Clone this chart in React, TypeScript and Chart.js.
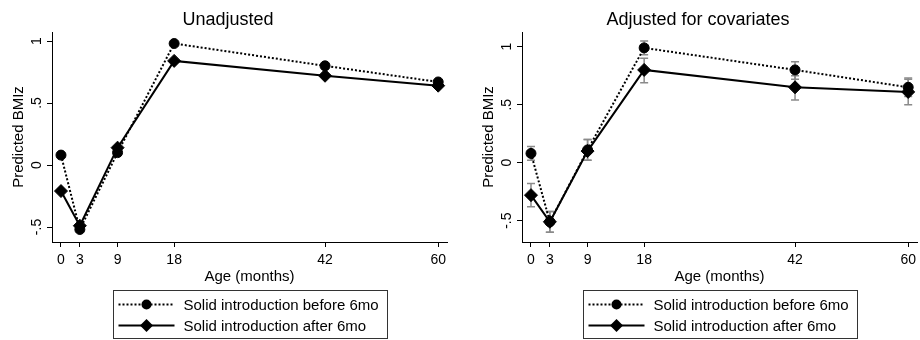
import React, { useEffect, useRef } from "react";
import { Chart, registerables } from "chart.js";

Chart.register(...registerables);

// ---------- data ----------
const ages = [0, 3, 9, 18, 42, 60];
const xTickValues = [0, 3, 9, 18, 42, 60];
const yTickValues = [-0.5, 0, 0.5, 1];
const yTickLabels = ["-.5", "0", ".5", "1"];
const seriesLabels = ["Solid introduction before 6mo", "Solid introduction after 6mo"];
const panelTitles = ["Unadjusted", "Adjusted for covariates"];
const xAxisTitle = "Age (months)";
const yAxisTitle = "Predicted BMIz";

const unadjBefore = [0.08, -0.52, 0.1, 0.98, 0.8, 0.67];
const unadjAfter = [-0.21, -0.49, 0.14, 0.84, 0.72, 0.64];

const adjBefore = [0.08, -0.51, 0.11, 0.99, 0.8, 0.65];
const adjBeforeLow = [0.02, -0.6, 0.02, 0.93, 0.72, 0.57];
const adjBeforeHigh = [0.14, -0.42, 0.2, 1.05, 0.87, 0.73];
const adjAfter = [-0.28, -0.51, 0.1, 0.8, 0.65, 0.61];
const adjAfterLow = [-0.38, -0.6, 0.02, 0.69, 0.54, 0.5];
const adjAfterHigh = [-0.18, -0.42, 0.2, 0.9, 0.75, 0.72];

const FONT = '"Liberation Sans", Arial, Helvetica, sans-serif';

type ErrSet = { low: number[]; high: number[] };

function makeErrorPlugin(sets: ErrSet[]) {
  return {
    id: "errorBars",
    beforeDatasetsDraw(chart: any) {
      const ctx = chart.ctx;
      const xs = chart.scales.x;
      const ys = chart.scales.y;
      ctx.save();
      ctx.strokeStyle = "#8a8a8a";
      ctx.lineWidth = 1.5;
      ctx.setLineDash([]);
      sets.forEach((s) => {
        ages.forEach((a, i) => {
          const px = xs.getPixelForValue(a);
          const lo = ys.getPixelForValue(s.low[i]);
          const hi = ys.getPixelForValue(s.high[i]);
          ctx.beginPath();
          ctx.moveTo(px, lo);
          ctx.lineTo(px, hi);
          ctx.moveTo(px - 4, lo);
          ctx.lineTo(px + 4, lo);
          ctx.moveTo(px - 4, hi);
          ctx.lineTo(px + 4, hi);
          ctx.stroke();
        });
      });
      ctx.restore();
    },
  };
}

const legendPlugin = {
  id: "boxLegend",
  afterDraw(chart: any) {
    const ctx = chart.ctx;
    const ca = chart.chartArea;
    const dsets = chart.data.datasets;
    ctx.save();
    ctx.font = `15px ${FONT}`;
    const textW = Math.max(...dsets.map((d: any) => ctx.measureText(d.label).width));
    const boxW = Math.round(70 + textW + 9);
    const boxH = 48;
    const cx = (ca.left + ca.right) / 2;
    const left = Math.round(cx - boxW / 2) + 0.5;
    const top = chart.height - 50 + 0.5;
    ctx.strokeStyle = "#333";
    ctx.lineWidth = 1;
    ctx.setLineDash([]);
    ctx.strokeRect(left, top, boxW, boxH);
    dsets.forEach((d: any, i: number) => {
      const y = top + 14 + i * 21;
      ctx.strokeStyle = "#000";
      ctx.lineWidth = d.borderWidth;
      ctx.setLineDash(d.borderDash || []);
      ctx.beginPath();
      ctx.moveTo(left + 5, y);
      ctx.lineTo(left + 61, y);
      ctx.stroke();
      ctx.setLineDash([]);
      ctx.fillStyle = "#000";
      const mx = left + 33;
      ctx.beginPath();
      if (d.pointStyle === "rectRot") {
        const r = d.pointRadius;
        ctx.moveTo(mx - r, y);
        ctx.lineTo(mx, y - r);
        ctx.lineTo(mx + r, y);
        ctx.lineTo(mx, y + r);
        ctx.closePath();
      } else {
        ctx.arc(mx, y, d.pointRadius, 0, Math.PI * 2);
      }
      ctx.fill();
      ctx.fillStyle = "#000";
      ctx.textAlign = "left";
      ctx.textBaseline = "middle";
      ctx.fillText(d.label, left + 70, y + 1);
    });
    ctx.restore();
  },
};

function makeDatasets(before: number[], after: number[]) {
  return [
    {
      label: seriesLabels[0],
      data: ages.map((a, i) => ({ x: a, y: before[i] })),
      borderColor: "#000",
      borderWidth: 2,
      borderDash: [2, 2],
      pointStyle: "circle",
      pointRadius: 5,
      pointBackgroundColor: "#000",
      pointBorderColor: "#000",
      pointBorderWidth: 1,
      tension: 0,
      fill: false,
    },
    {
      label: seriesLabels[1],
      data: ages.map((a, i) => ({ x: a, y: after[i] })),
      borderColor: "#000",
      borderWidth: 2,
      borderDash: [],
      pointStyle: "rectRot",
      pointRadius: 6.5,
      pointBackgroundColor: "#000",
      pointBorderColor: "#000",
      pointBorderWidth: 1,
      tension: 0,
      fill: false,
    },
  ];
}

type PanelProps = {
  left: number;
  title: string;
  before: number[];
  after: number[];
  yMin: number;
  yMax: number;
  errors: ErrSet[];
};

function Panel({ left, title, before, after, yMin, yMax, errors }: PanelProps) {
  const ref = useRef<HTMLCanvasElement>(null);
  useEffect(() => {
    const chart = new Chart(ref.current as HTMLCanvasElement, {
      type: "line",
      data: { datasets: makeDatasets(before, after) as any },
      options: {
        responsive: false,
        animation: false,
        devicePixelRatio: 1,
        layout: { padding: { left: 9, right: 9, top: 0, bottom: 48 } },
        plugins: {
          legend: { display: false },
          tooltip: { enabled: false },
          title: {
            display: true,
            text: title,
            color: "#000",
            font: { size: 18, weight: "normal", family: FONT },
            padding: { top: 9, bottom: 1.4 },
          },
        },
        scales: {
          x: {
            type: "linear",
            min: -1.43,
            max: 61.4,
            afterBuildTicks: (s: any) => {
              s.ticks = xTickValues.map((v) => ({ value: v }));
            },
            afterFit: (s: any) => {
              s.height = 50;
            },
            ticks: {
              autoSkip: false,
              minRotation: 0,
              maxRotation: 0,
              padding: 5,
              color: "#000",
              font: { size: 14, family: FONT },
              callback: (v: any) => String(v),
            },
            grid: { drawOnChartArea: false, drawTicks: true, tickLength: 5, color: "#000", lineWidth: 1 },
            border: { display: true, color: "#000", width: 1 },
            title: {
              display: true,
              text: xAxisTitle,
              color: "#000",
              font: { size: 15, family: FONT },
              padding: { top: 0, bottom: 6 },
            },
          },
          y: {
            type: "linear",
            min: yMin,
            max: yMax,
            afterBuildTicks: (s: any) => {
              s.ticks = yTickValues.map((v) => ({ value: v }));
            },
            afterFit: (s: any) => {
              s.width = 43;
            },
            ticks: {
              minRotation: 90,
              maxRotation: 90,
              crossAlign: "center",
              padding: 2,
              color: "#000",
              font: { size: 14, family: FONT },
              callback: (v: any) => {
                const k = yTickValues.indexOf(v);
                return k >= 0 ? yTickLabels[k] : "";
              },
            },
            grid: { drawOnChartArea: false, drawTicks: true, tickLength: 5, color: "#000", lineWidth: 1 },
            border: { display: true, color: "#000", width: 1 },
            title: {
              display: true,
              text: yAxisTitle,
              color: "#000",
              font: { size: 15, family: FONT },
              padding: { top: 0.5, bottom: 0 },
            },
          },
        },
      } as any,
      plugins: [makeErrorPlugin(errors), legendPlugin] as any,
    });
    return () => chart.destroy();
  }, []);
  return (
    <canvas
      ref={ref}
      width={456}
      height={340}
      style={{ position: "absolute", left, top: 0, width: 456, height: 340 }}
    />
  );
}

export default function App() {
  return (
    <div style={{ position: "absolute", left: 0, top: 0, width: 920, height: 340, background: "#fff" }}>
      <Panel
        left={0}
        title={panelTitles[0]}
        before={unadjBefore}
        after={unadjAfter}
        yMin={-0.621}
        yMax={1.073}
        errors={[]}
      />
      <Panel
        left={470}
        title={panelTitles[1]}
        before={adjBefore}
        after={adjAfter}
        yMin={-0.684}
        yMax={1.127}
        errors={[
          { low: adjBeforeLow, high: adjBeforeHigh },
          { low: adjAfterLow, high: adjAfterHigh },
        ]}
      />
    </div>
  );
}
